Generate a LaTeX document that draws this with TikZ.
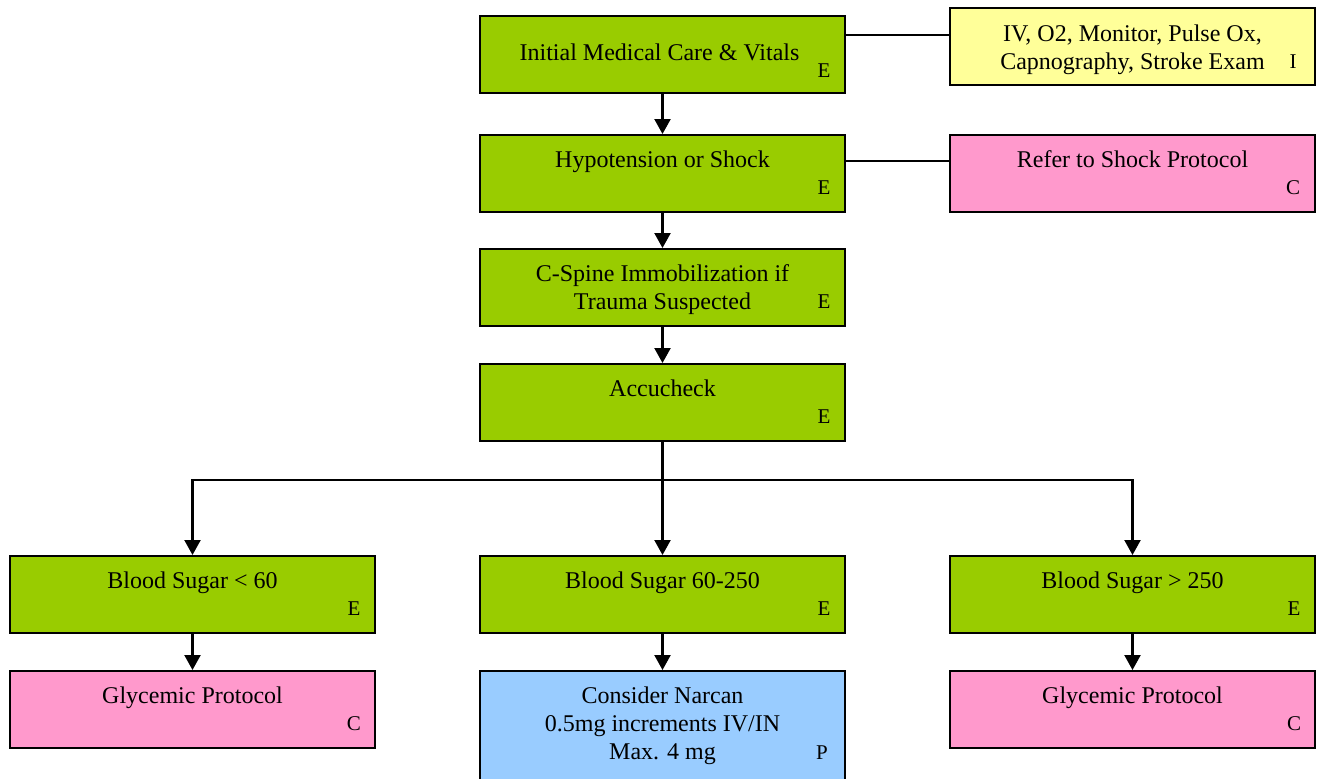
\documentclass[tikz,border=0pt]{standalone}
\usepackage{fontspec}
\setmainfont{Liberation Serif}
\usetikzlibrary{arrows.meta,calc}
\definecolor{stepgreen}{HTML}{99CC00}
\definecolor{infoyellow}{HTML}{FFFF99}
\definecolor{refpink}{HTML}{FF99CC}
\definecolor{drugblue}{HTML}{99CCFF}
\begin{document}
\begin{tikzpicture}[x=0.5pt,y=-0.5pt,
  box/.style={draw=black, line width=1pt, minimum width=182.5pt, minimum height=38.5pt,
    inner sep=0pt, anchor=north west},
  green/.style={box, fill=stepgreen},
  yellowbox/.style={box, fill=infoyellow},
  pinkbox/.style={box, fill=refpink},
  bluebox/.style={box, fill=drugblue, minimum height=60pt},
  txt/.style={anchor=north, inner sep=0pt, align=center, font=\fontsize{12}{14}\selectfont},
  tag/.style={anchor=base, inner sep=0pt, font=\fontsize{10.5}{12}\selectfont},
  arr/.style={line width=1.1pt, -{Triangle[length=7.5pt,width=8pt]}},
  link/.style={line width=0.6pt}]
\useasboundingbox (0,0) rectangle (1318,778);
\clip (0,0) rectangle (1318,778);

% main column
\node[green] (init) at (479,15) {};
\node[txt] (initT) at ($(init.north)+(-3,28)$) {Initial Medical Care \& Vitals};
\node[tag] (initL) at ($(init.south east)+(-22,-17)$) {E};

\node[green] (hypo) at (479,134) {};
\node[txt] (hypoT) at ($(hypo.north)+(0,16)$) {Hypotension or Shock};
\node[tag] (hypoL) at ($(hypo.south east)+(-22,-19)$) {E};

\node[green] (spine) at (479,248) {};
\node[txt] (spineT) at ($(spine.north)+(0,16)$) {C-Spine Immobilization if\\Trauma Suspected};
\node[tag] (spineL) at ($(spine.south east)+(-22,-19)$) {E};

\node[green] (accu) at (479,363) {};
\node[txt] (accuT) at ($(accu.north)+(0,16)$) {Accucheck};
\node[tag] (accuL) at ($(accu.south east)+(-22,-19)$) {E};

% side boxes
\node[yellowbox] (iv) at (949,7) {};
\node[txt] (ivT) at ($(iv.north)+(0,17)$) {IV, O2, Monitor, Pulse Ox,\\Capnography, Stroke Exam};
\node[tag] (ivL) at ($(iv.south east)+(-23,-18)$) {I};

\node[pinkbox] (shock) at (949,134) {};
\node[txt] (shockT) at ($(shock.north)+(0,16)$) {Refer to Shock Protocol};
\node[tag] (shockL) at ($(shock.south east)+(-23,-19)$) {C};

% blood sugar row
\node[green] (low) at (9,555) {};
\node[txt] (lowT) at ($(low.north)+(0,16)$) {Blood Sugar < 60};
\node[tag] (lowL) at ($(low.south east)+(-22,-19)$) {E};

\node[green] (mid) at (479,555) {};
\node[txt] (midT) at ($(mid.north)+(0,16)$) {Blood Sugar 60-250};
\node[tag] (midL) at ($(mid.south east)+(-22,-19)$) {E};

\node[green] (high) at (949,555) {};
\node[txt] (highT) at ($(high.north)+(0,16)$) {Blood Sugar > 250};
\node[tag] (highL) at ($(high.south east)+(-22,-19)$) {E};

% outcome row
\node[pinkbox] (glyL) at (9,670) {};
\node[txt] (glyLT) at ($(glyL.north)+(0,16)$) {Glycemic Protocol};
\node[tag] (glyLL) at ($(glyL.south east)+(-22,-19)$) {C};

\node[bluebox] (narcan) at (479,670) {};
\node[txt] (narcanT) at ($(narcan.north)+(0,16)$) {Consider Narcan\\0.5mg increments IV/IN\\Max. 4 mg};
\node[tag] (narcanL) at ($(narcan.north east)+(-24,89)$) {P};

\node[pinkbox] (glyR) at (949,670) {};
\node[txt] (glyRT) at ($(glyR.north)+(0,16)$) {Glycemic Protocol};
\node[tag] (glyRL) at ($(glyR.south east)+(-22,-19)$) {C};

% connectors
\draw[arr] (init) -- (hypo);
\draw[arr] (hypo) -- (spine);
\draw[arr] (spine) -- (accu);

\coordinate (ivrow) at (0,35);
\coordinate (shockrow) at (0,161);
\draw[link] (init.east |- ivrow) -- (iv.west |- ivrow);
\draw[link] (hypo.east |- shockrow) -- (shock.west |- shockrow);

\coordinate (split) at ($(accu.south)+(0,38)$);
\draw[arr] (accu.south) -- (mid.north);
\draw[arr] (split) -| (low.north);
\draw[arr] (split) -| (high.north);

\draw[arr] (low) -- (glyL);
\draw[arr] (mid) -- (narcan);
\draw[arr] (high) -- (glyR);
\end{tikzpicture}
\end{document}
